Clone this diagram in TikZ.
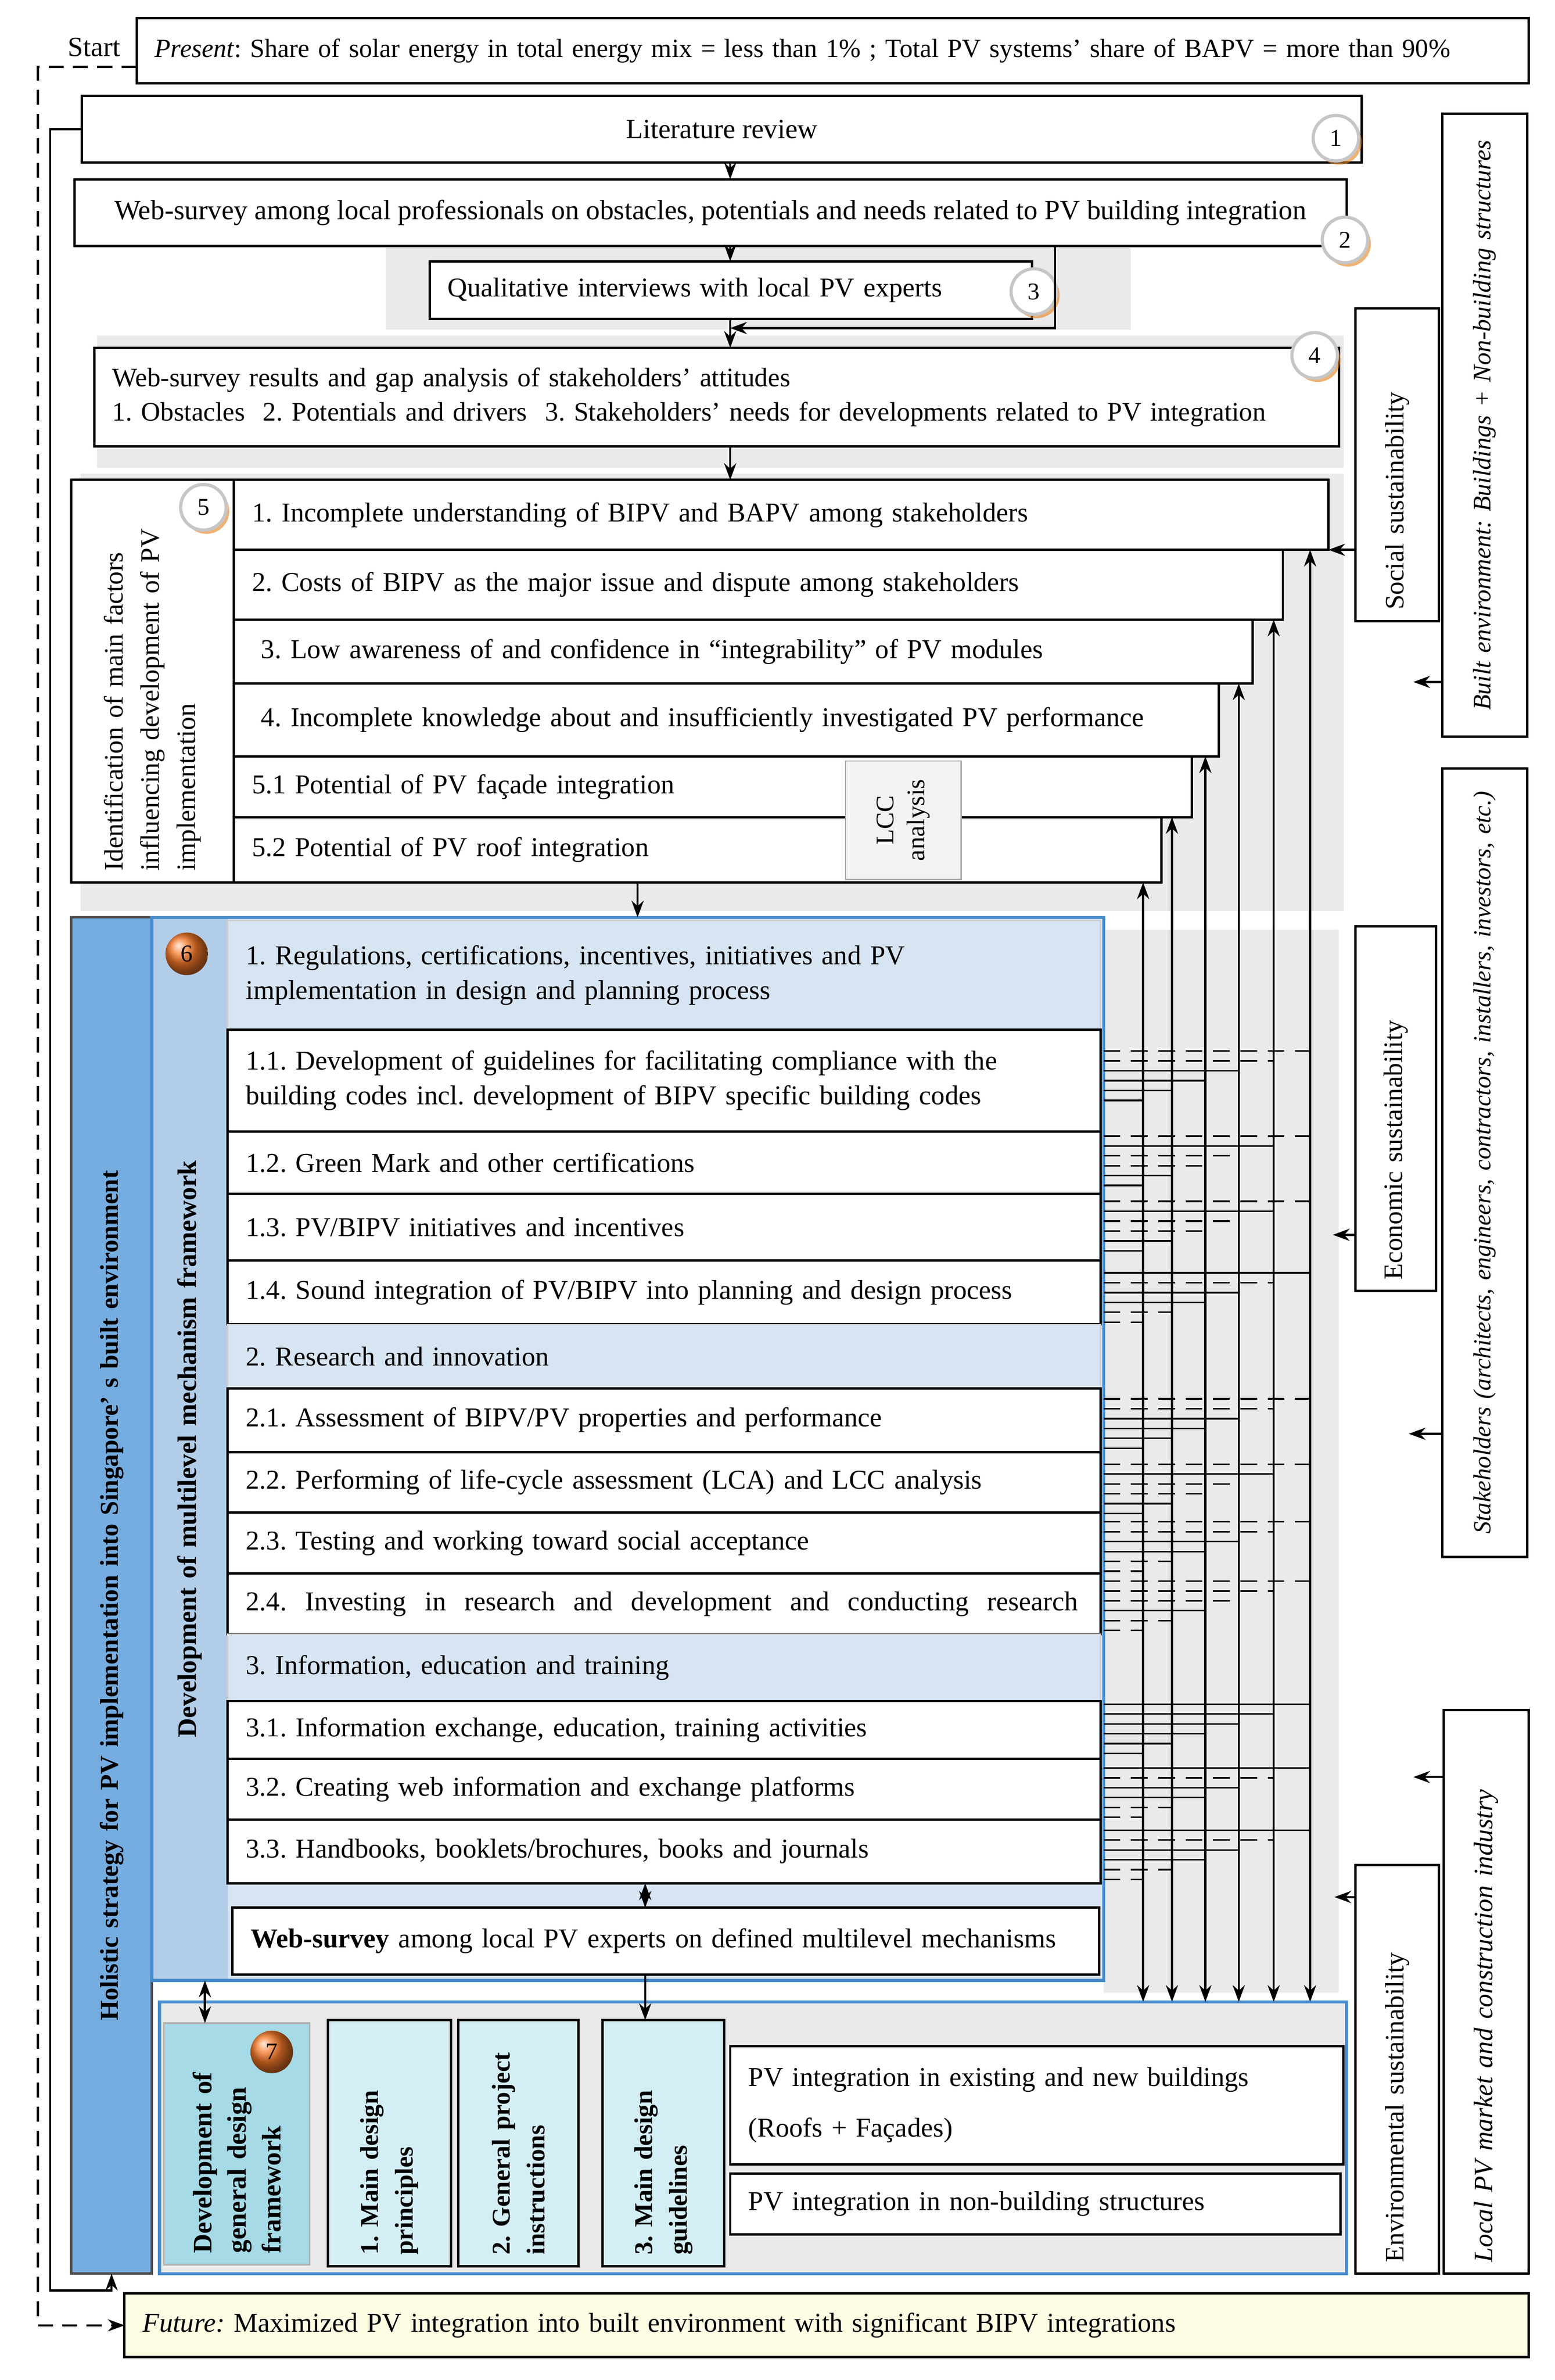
\documentclass[tikz,border=0pt]{standalone}
\usepackage{fontspec}
\setmainfont{Liberation Serif}
\usetikzlibrary{positioning, arrows.meta, shadows}
\frenchspacing

\definecolor{bandgray}{RGB}{234,234,234}
\definecolor{holblue}{RGB}{118,173,224}
\definecolor{colblue}{RGB}{178,205,232}
\definecolor{headblue}{RGB}{215,228,242}
\definecolor{frameblue}{RGB}{70,140,205}
\definecolor{dgfcyan}{RGB}{165,218,230}
\definecolor{lightcyan}{RGB}{212,238,245}
\definecolor{futureyellow}{RGB}{253,253,228}
\definecolor{ballorange}{RGB}{245,120,40}
\definecolor{lccgray}{RGB}{242,242,242}

\def\pxl{0.2mm}
\tikzset{
  cell/.style 2 args={draw, line width=0.9pt, fill=white, anchor=north west, outer sep=0pt,
    minimum height=#2*\pxl, text width=#1*\pxl-4.8mm, inner xsep=2.4mm, inner ysep=0pt,
    align=left, font=\fontsize{10.2}{13}\selectfont},
  cellc/.style 2 args={draw, line width=0.9pt, fill=white, anchor=north west, outer sep=0pt,
    minimum width=#1*\pxl, minimum height=#2*\pxl, inner sep=0pt, font=\fontsize{10.4}{13}\selectfont},
  vcell/.style 2 args={draw, line width=0.9pt, fill=white, anchor=center, outer sep=0pt, rotate=90,
    minimum height=#2*\pxl, text width=#1*\pxl-3mm, inner xsep=1.5mm, inner ysep=0pt,
    align=left, font=\fontsize{10}{13.6}\selectfont},
  head/.style={fill=headblue, draw=gray!40, line width=0.5pt},
  numtag/.style={circle, draw=gray!45, line width=1.2pt, fill=white, minimum size=6mm, inner sep=0pt,
    font=\fontsize{9}{9}\selectfont,
    drop shadow={shadow xshift=0.4mm, shadow yshift=-0.5mm, fill=orange!60!brown, opacity=0.6}},
  balltag/.style={circle, ball color=ballorange, minimum size=5.6mm, inner sep=0pt, font=\fontsize{9}{9}\selectfont},
  arr/.style={-{Stealth[length=2.2mm, width=1.6mm]}, line width=0.8pt},
  dbl/.style={{Stealth[length=2.2mm, width=1.6mm]}-{Stealth[length=2.2mm, width=1.6mm]}, line width=0.8pt},
  dasharr/.style={-{Stealth[length=2.2mm, width=1.6mm]}, line width=0.8pt, dash pattern=on 2mm off 1.2mm},
  ts/.style={line width=0.6pt},
  td/.style={line width=0.6pt, dash pattern=on 2.2mm off 1.4mm}
}

\begin{document}
\begin{tikzpicture}[x=0.2mm, y=-0.2mm]
  \useasboundingbox (0,0) rectangle (1024,1567);

  % background bands
  \fill[bandgray] (254,163) rectangle (745,217);
  \fill[bandgray] (64,221) rectangle (885,308);
  \fill[bandgray] (53,312) rectangle (885,600);
  \fill[bandgray] (727,612) rectangle (882,1312);

  % steps 1-4
  \node[font=\fontsize{10.4}{12}\selectfont] (start) at (62,31) {Start};
  \node[cell={917}{43}, font=\fontsize{9.8}{12}\selectfont] (present) at (90,12) {\textit{Present}: Share of solar energy in total energy mix = less than 1\% ; Total PV systems’ share of BAPV = more than 90\%};
  \node[cellc={843}{44}] (lit) at (54,63) {Literature review};
  \node[cellc={838}{44}] (survey) at (49,118) {Web-survey among local professionals on obstacles, potentials and needs related to PV building integration};
  \node[cell={397}{38}] (qual) at (283,172) {Qualitative interviews with local PV experts};
  \node[cell={820}{65}, font=\fontsize{10}{13}\selectfont] (gap) at (62,229) {Web-survey results and gap analysis of stakeholders’ attitudes\\
    1. Obstacles\ \ 2. Potentials and drivers\ \ 3. Stakeholders’ needs for developments related to PV integration};

  % step 5
  \node[vcell={265}{107}] (factors) at (100.5,448.5) {Identification of main factors\\ influencing development of PV\\ implementation};
  \node[cell={721}{46}] (r1) at (154,316) {1. Incomplete understanding of BIPV and BAPV among stakeholders};
  \node[cell={691}{46}] (r2) at (154,362) {2. Costs of BIPV as the major issue and dispute among stakeholders};
  \node[cell={671}{42}] (r3) at (154,408) {\ 3. Low awareness of and confidence in “integrability” of PV modules};
  \node[cell={649}{48}] (r4) at (154,450) {\ 4. Incomplete knowledge about and insufficiently investigated PV performance};
  \node[cell={631}{40}] (r51) at (154,498) {5.1 Potential of PV façade integration};
  \node[cell={611}{43}] (r52) at (154,538) {5.2 Potential of PV roof integration};
  \node[vcell={78}{76}, fill=lccgray, draw=gray!70, line width=0.5pt, align=center, font=\fontsize{9.5}{11.5}\selectfont] (lcc) at (595,540) {LCC\\ analysis};

  % step 6
  \node[vcell={893}{53}, fill=holblue, draw=black!70, align=center, font=\bfseries\fontsize{9.6}{12}\selectfont] (hol) at (73.5,1050.5) {Holistic strategy for PV implementation into Singapore’ s built environment};
  \node[cell={627}{700}, fill=headblue, draw=none] (frame6) at (100,604) {};
  \node[vcell={700}{50}, fill=colblue, draw=none, align=center, font=\bfseries\fontsize{10}{12}\selectfont] (mech) at (125,954) {Development of multilevel mechanism framework};
  \node[cell={575}{72}, head] (h1) at (150,606) {1. Regulations, certifications, incentives, initiatives and PV\\ implementation in design and planning process};
  \node[cell={575}{67}] (s11) at (150,678) {1.1. Development of guidelines for facilitating compliance with the\\ building codes incl. development of BIPV specific building codes};
  \node[cell={575}{41}] (s12) at (150,745) {1.2. Green Mark and other certifications};
  \node[cell={575}{44}] (s13) at (150,786) {1.3. PV/BIPV initiatives and incentives};
  \node[cell={575}{42}] (s14) at (150,830) {1.4. Sound integration of PV/BIPV into planning and design process};
  \node[cell={575}{42}, head] (h2) at (150,872) {2. Research and innovation};
  \node[cell={575}{42}] (s21) at (150,914) {2.1. Assessment of BIPV/PV properties and performance};
  \node[cell={575}{40}] (s22) at (150,956) {2.2. Performing of life-cycle assessment (LCA) and LCC analysis};
  \node[cell={575}{40}] (s23) at (150,996) {2.3. Testing and working toward social acceptance};
  \node[cell={575}{40}] (s24) at (150,1036) {\hbox to 109.6mm{2.4.\hfill Investing\hfill in\hfill research\hfill and\hfill development\hfill and\hfill conducting\hfill research}};
  \node[cell={575}{44}, head] (h3) at (150,1076) {3. Information, education and training};
  \node[cell={575}{38}] (s31) at (150,1120) {3.1. Information exchange, education, training activities};
  \node[cell={575}{40}] (s32) at (150,1158) {3.2. Creating web information and exchange platforms};
  \node[cell={575}{42}] (s33) at (150,1198) {3.3. Handbooks, booklets/brochures, books and journals};
  \node[cell={571}{44}] (web2) at (153,1256) {\textbf{Web-survey} among local PV experts on defined multilevel mechanisms};
  \draw[frameblue, line width=1.2pt] (frame6.north west) rectangle (frame6.south east);

  % step 7
  \node[cell={782}{179}, fill=bandgray, draw=frameblue, line width=1.2pt] (frame7) at (105,1318) {};
  \node[vcell={159}{96}, fill=dgfcyan, draw=gray!60, line width=0.6pt, font=\bfseries\fontsize{10}{13}\selectfont] (dgf) at (156,1411.5) {Development of\\ general design\\ framework};
  \node[vcell={162}{81}, fill=lightcyan, font=\bfseries\fontsize{9.6}{13}\selectfont] (mdp) at (256.5,1411) {1. Main design\\ principles};
  \node[vcell={162}{79}, fill=lightcyan, font=\bfseries\fontsize{9.6}{13}\selectfont] (gpi) at (341.5,1411) {2. General project\\ instructions};
  \node[vcell={162}{80}, fill=lightcyan, font=\bfseries\fontsize{9.6}{13}\selectfont] (mdg) at (437,1411) {3. Main design\\ guidelines};
  \node[cell={404}{78}, font=\fontsize{10.2}{19}\selectfont] (pvb) at (481,1347) {PV integration in existing and new buildings\\ (Roofs + Façades)};
  \node[cell={402}{40}] (pvn) at (481,1431) {PV integration in non-building structures};

  % context boxes on the right
  \node[vcell={410}{56}, align=center, font=\itshape\fontsize{9.4}{12}\selectfont] (built) at (978,280) {Built environment: Buildings + Non-building structures};
  \node[vcell={206}{55}] (social) at (920.5,306) {Social sustainability};
  \node[vcell={519}{56}, align=center, font=\itshape\fontsize{9.2}{11}\selectfont] (stake) at (978,765.5) {Stakeholders (architects, engineers, contractors, installers, investors, etc.)};
  \node[vcell={240}{53}] (econ) at (919.5,730) {Economic sustainability};
  \node[vcell={371}{56}, font=\itshape\fontsize{10}{12}\selectfont] (local) at (979,1311.5) {Local PV market and construction industry};
  \node[vcell={269}{55}] (env) at (920.5,1362.5) {Environmental sustainability};

  \node[cell={925}{42}, fill=futureyellow] (future) at (82,1510) {\textit{Future:} Maximized PV integration into built environment with significant BIPV integrations};

  % step numbers
  \node[numtag] (n1) at (880,91) {1};
  \node[numtag] (n2) at (886,158) {2};
  \node[numtag] (n3) at (681,192) {3};
  \node[numtag] (n4) at (866,234) {4};
  \node[numtag] (n5) at (134,334) {5};
  \node[balltag] (n6) at (123,628) {6};
  \node[balltag] (n7) at (179,1351) {7};

  % main flow
  \coordinate (spine) at (481,0);
  \draw[arr] (lit.south -| spine) -- (survey.north -| spine);
  \draw[arr] (survey.south -| spine) -- (qual.north -| spine);
  \draw[arr] (qual.south -| spine) -- (gap.north -| spine);
  \coordinate (side) at (695,216);
  \draw[arr] (survey.south -| side) |- (spine |- side);
  \draw[arr] (gap.south -| spine) -- (r1.north -| spine);
  \coordinate (drop) at (420,0);
  \draw[arr] (r52.south -| drop) -- (frame6.north -| drop);
  \coordinate (mid) at (425,0);
  \draw[dbl] (s33.south -| mid) -- (web2.north -| mid);
  \draw[arr] (web2.south -| mid) -- (mdg.east -| mid);
  \coordinate (link) at (135,0);
  \draw[dbl] (frame6.south -| link) -- (dgf.east -| link);

  % start and feedback loops
  \coordinate (stc) at (25,44);
  \draw[dasharr] (stc -| present.west) -- (stc) |- (future.west);
  \coordinate (loopc) at (33,1508);
  \draw[arr] (lit.west) -| (loopc) -| (hol.west);

  % links between the mechanisms and the factors
  \foreach \vx/\row in {753/r52, 772/r51, 794/r4, 816/r3, 839/r2, 863/r1} {
    \coordinate (vt) at (\vx,0);
    \draw[dbl] (frame7.north -| vt) -- (\row.south -| vt);
  }
  \foreach \y/\pat in {692/{1,1,0,0,0,0}, 748/{1,0,1,1,0,0}, 791/{1,0,1,1,0,0}, 838/{0,1,0,0,1,1},
      921/{1,1,0,0,0,0}, 964/{1,0,1,1,0,0}, 1002/{1,1,0,0,1,1}, 1041/{1,1,1,0,1,1},
      1122/{0,0,0,0,0,0}, 1164/{0,1,0,0,1,1}, 1205/{0,1,0,0,1,1}} {
    \foreach \d [count=\k] in \pat {
      \pgfmathsetmacro\xe{{863,839,816,794,772,753}[\k-1]}
      \coordinate (tk) at (\xe,\y+6.5*\k-6.5);
      \ifnum\d=1 \draw[td] (frame6.east |- tk) -- (tk); \else \draw[ts] (frame6.east |- tk) -- (tk); \fi
    }
  }

  % influences of the context
  \draw[arr] (r1.south east -| social.north) -- (r1.south east);
  \coordinate (bi) at (931,449);
  \draw[arr] (bi -| built.north) -- (bi);
  \coordinate (sti) at (928,944);
  \draw[arr] (sti -| stake.north) -- (sti);
  \coordinate (eci) at (878,813);
  \draw[arr] (eci -| econ.north) -- (eci);
  \coordinate (loi) at (931,1170);
  \draw[arr] (loi -| local.north) -- (loi);
  \coordinate (eni) at (879,1249);
  \draw[arr] (eni -| env.north) -- (eni);
\end{tikzpicture}
\end{document}
